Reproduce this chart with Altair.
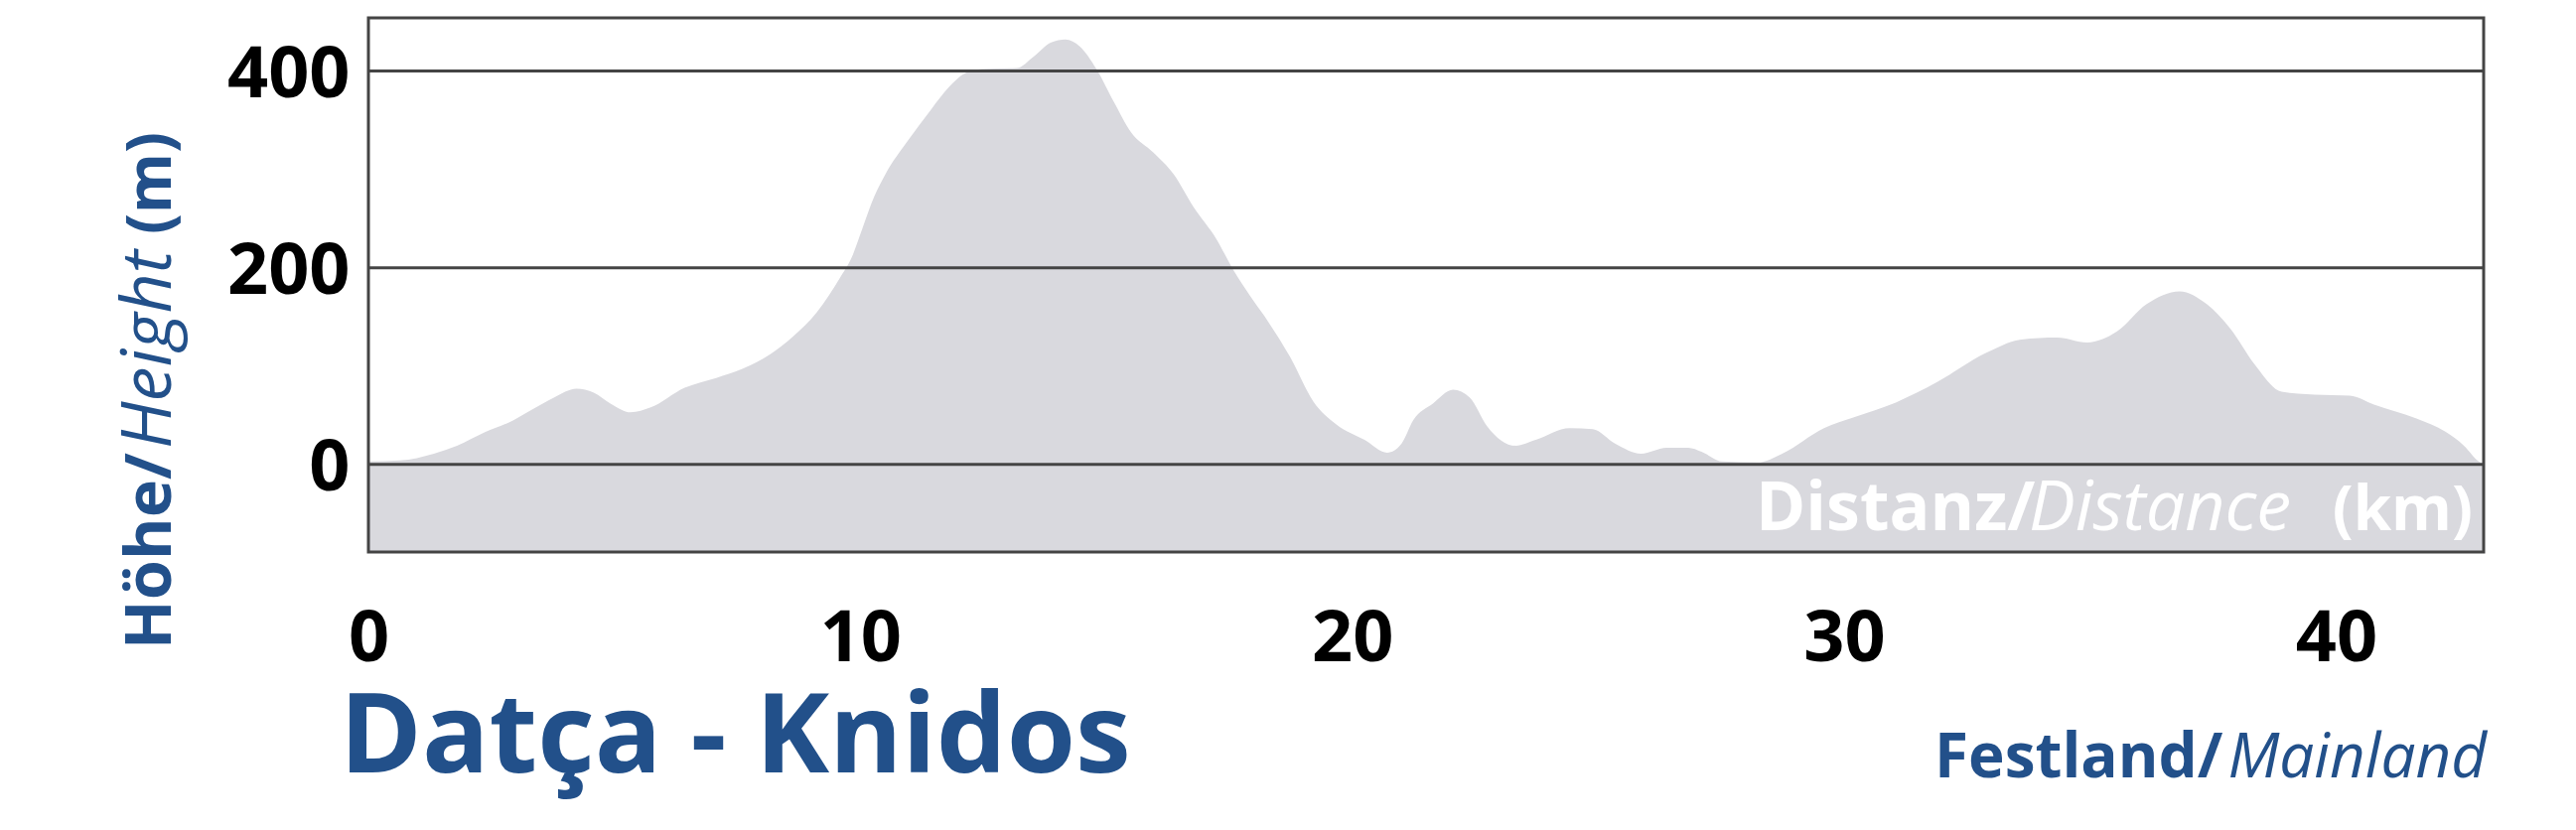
import altair as alt
import pandas as pd

# ---------------- data ----------------
km = [0, 0.64, 1.33, 1.8, 2.38, 2.95, 3.3, 3.77, 4.23, 4.58, 4.92, 5.33, 5.74,
      6.43, 7.07, 7.59, 8.17, 8.63, 9.12, 9.59, 9.82, 10.05, 10.28, 10.51,
      10.98, 11.44, 11.79, 12.14, 12.48, 13.18, 13.53, 13.88, 14.17, 14.46,
      14.8, 15.15, 15.5, 15.96, 16.37, 16.77, 17.24, 17.58, 17.93, 18.28,
      18.74, 19.21, 19.67, 20.25, 20.71, 21.0, 21.24, 21.64, 22.05, 22.39,
      22.74, 23.32, 23.73, 24.42, 24.89, 25.35, 25.87, 26.39, 26.83, 27.1,
      27.52, 28.25, 28.74, 29.59, 30.2, 31.05, 31.9, 32.87, 33.6, 34.33,
      34.94, 35.54, 36.15, 36.82, 37.37, 37.85, 38.34, 38.89, 39.56, 40.28,
      40.77, 41.62, 42.23, 42.6, 42.9, 43.0]
elev = [3, 4, 11, 19, 33, 45, 55, 68, 77, 73, 62, 53, 58,
        78, 88, 97, 112, 130, 155, 190, 210, 241, 272, 295,
        330, 361, 383, 398, 402, 403, 415, 429, 432, 425,
        402, 369, 338, 317, 295, 262, 229, 198, 171, 146,
        109, 64, 41, 25, 12, 21, 45, 62, 76, 68,
        39, 19, 25, 37, 36, 21, 11, 17, 17, 13,
        3, 2, 11, 37, 48, 63, 84, 113, 127, 129,
        124, 135, 163, 176, 163, 138, 102, 74, 71, 70,
        61, 47, 33, 19, 3, 0]
x_ticks = [0, 10, 20, 30, 40]
y_ticks = [0, 200, 400]
x_domain = [0, 43]
y_domain = [-89, 454]

title_text = "Datça - Knidos"
ytitle_parts = ["Höhe/", "Height", "(m)"]
xtitle_parts = ["Distanz/", "Distance", "(km)"]
region_parts = ["Festland/", "Mainland"]

# ---------------- styling ----------------
W, H = 2130, 538
FONT = "Open Sans"
BLUE = "#22508a"
GRID = "#444444"
FILL = "#d9d9de"

profile = pd.DataFrame({"km": km, "elev": elev})
xscale = alt.Scale(domain=x_domain, nice=False, zero=False)
yscale = alt.Scale(domain=y_domain, nice=False, zero=False)

x_axis = alt.Axis(values=x_ticks, title=None, grid=False, ticks=False,
                  domain=False, labelFont=FONT, labelFontSize=72,
                  labelFontWeight="bold", labelColor="#000000",
                  labelPadding=52, labelBaseline="top",
                  labelFlush=False, labelOverlap=False)
y_axis = alt.Axis(values=y_ticks, title=None, grid=False, ticks=False,
                  domain=False, labelFont=FONT, labelFontSize=72,
                  labelFontWeight="bold", labelColor="#000000",
                  labelPadding=19, labelBaseline="middle",
                  labelOffset=4, labelOverlap=False)

area = alt.Chart(profile).mark_area(color=FILL, interpolate="monotone").encode(
    x=alt.X("km:Q", scale=xscale, axis=x_axis),
    y=alt.Y("elev:Q", scale=yscale, axis=y_axis),
    y2=alt.datum(y_domain[0]),
)

rules = alt.Chart(pd.DataFrame({"elev": y_ticks})).mark_rule(
    color=GRID, strokeWidth=3).encode(y=alt.Y("elev:Q", scale=yscale, axis=y_axis))

frame_df = pd.DataFrame({"km": [x_domain[0]], "km_end": [x_domain[1]],
                         "elev": [y_domain[0]], "elev_end": [y_domain[1]]})
frame = alt.Chart(frame_df).mark_rect(
    filled=False, stroke=GRID, strokeWidth=3).encode(
    x=alt.X("km:Q", scale=xscale, axis=x_axis), x2="km_end:Q",
    y=alt.Y("elev:Q", scale=yscale, axis=y_axis), y2="elev_end:Q")


def txt(s, x, y, size, weight="normal", style="normal", color=BLUE,
        align="left", angle=0):
    return alt.Chart(pd.DataFrame({"t": [s]})).mark_text(
        font=FONT, fontSize=size, fontWeight=weight, fontStyle=style,
        color=color, align=align, baseline="alphabetic", angle=angle
    ).encode(x=alt.value(x), y=alt.value(y), text="t:N")


texts = [
    # main title
    txt(title_text, -29, 760, 112, weight="bold"),
    # region label
    txt(region_parts[0], 1577, 765, 62, weight="bold"),
    txt(region_parts[1], 2133, 765, 62, style="italic", align="right"),
    # distance label in the band
    txt(xtitle_parts[0], 1397, 516, 68, weight="bold", color="white"),
    txt(xtitle_parts[1], 1672, 516, 70, style="italic", color="white"),
    txt(xtitle_parts[2], 2119, 516, 62, weight="bold", color="white",
        align="right"),
    # rotated y title
    txt(ytitle_parts[0], -199, 636, 65, weight="bold", angle=270),
    txt(ytitle_parts[1], -199, 434, 70, style="italic", angle=270),
    txt(ytitle_parts[2], -199, 218, 62, weight="bold", angle=270),
]

chart = alt.layer(area, rules, frame, *texts).properties(
    width=W, height=H,
    autosize=alt.AutoSizeParams(type="none"),
    padding={"left": 363, "top": 10, "right": 85, "bottom": 272},
    background="white",
).configure_view(strokeWidth=0)

chart.save("out.html", embed_options={"renderer": "svg", "actions": False})
